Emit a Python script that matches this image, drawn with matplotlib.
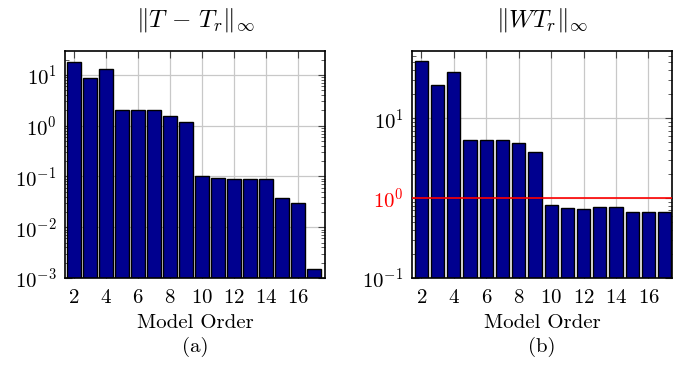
import matplotlib
matplotlib.use("Agg")
import matplotlib.pyplot as plt
from matplotlib.ticker import LogLocator, FixedLocator

plt.rcParams['font.family'] = 'cmr10'
plt.rcParams['mathtext.fontset'] = 'cm'
plt.rcParams['axes.formatter.use_mathtext'] = True
plt.rcParams['font.size'] = 15

# model orders
orders = list(range(2, 18))
# ||T - T_r||_inf
err_a = [18, 8.8, 13, 2.04, 2.04, 2.04, 1.55, 1.18,
         0.103, 0.094, 0.089, 0.089, 0.09, 0.037, 0.030, 0.0015]
# ||W T_r||_inf
err_b = [52.5, 25.8, 38, 5.3, 5.3, 5.3, 4.95, 3.8,
         0.81, 0.76, 0.73, 0.78, 0.78, 0.675, 0.675, 0.675]
xticks = [2, 4, 6, 8, 10, 12, 14, 16]

bar_color = '#00008f'

fig = plt.figure(figsize=(6.73, 3.81), dpi=100)
W, H = 673, 381
ax1 = fig.add_axes([65 / W, 1 - 278 / H, 260 / W, 227 / H])
ax2 = fig.add_axes([412 / W, 1 - 278 / H, 260 / W, 227 / H])


def style(ax, ymin, ymax):
    ax.set_yscale('log')
    ax.set_ylim(ymin, ymax)
    ax.xaxis.set_major_locator(FixedLocator(xticks))
    ax.yaxis.set_major_locator(LogLocator(base=10))
    ax.yaxis.set_minor_locator(LogLocator(base=10, subs=range(2, 10)))
    ax.yaxis.set_minor_formatter(plt.NullFormatter())
    ax.grid(True, which='major', color='#c8c8c8', linewidth=0.9)
    ax.set_axisbelow(True)
    ax.tick_params(which='both', direction='in', top=True, right=True,
                   color='#444444')
    ax.tick_params(which='major', length=5, pad=6)
    ax.tick_params(axis='x', which='major', pad=8)
    ax.tick_params(which='minor', length=3)
    for s in ax.spines.values():
        s.set_linewidth(1.2)
    ax.set_xlabel('Model Order', labelpad=5)


ax1.bar(orders, err_a, width=0.82, color=bar_color, edgecolor='black', linewidth=1)
style(ax1, 1e-3, 10 ** 1.47)
ax1.set_xlim(1.44, 17.69)
ax1.set_title(r'$\|T\, -\, T_r\|_\infty$', pad=18)

ax2.bar(orders, err_b, width=0.82, color=bar_color, edgecolor='black', linewidth=1)
style(ax2, 1e-1, 10 ** 1.84)
ax2.set_xlim(1.42, 17.45)
ax2.axhline(1, color='red', linewidth=1.2, zorder=3)
ax2.set_title(r'$\|WT_r\|_\infty$', pad=18)
fig.canvas.draw()
for lab in ax2.get_yticklabels():
    if lab.get_position()[1] == 1:
        lab.set_color('red')

fig.text((65 + 130) / W, 1 - 347 / H, '(a)', ha='center', va='center')
fig.text((412 + 130) / W, 1 - 347 / H, '(b)', ha='center', va='center')

fig.savefig('out.png', dpi=100)
